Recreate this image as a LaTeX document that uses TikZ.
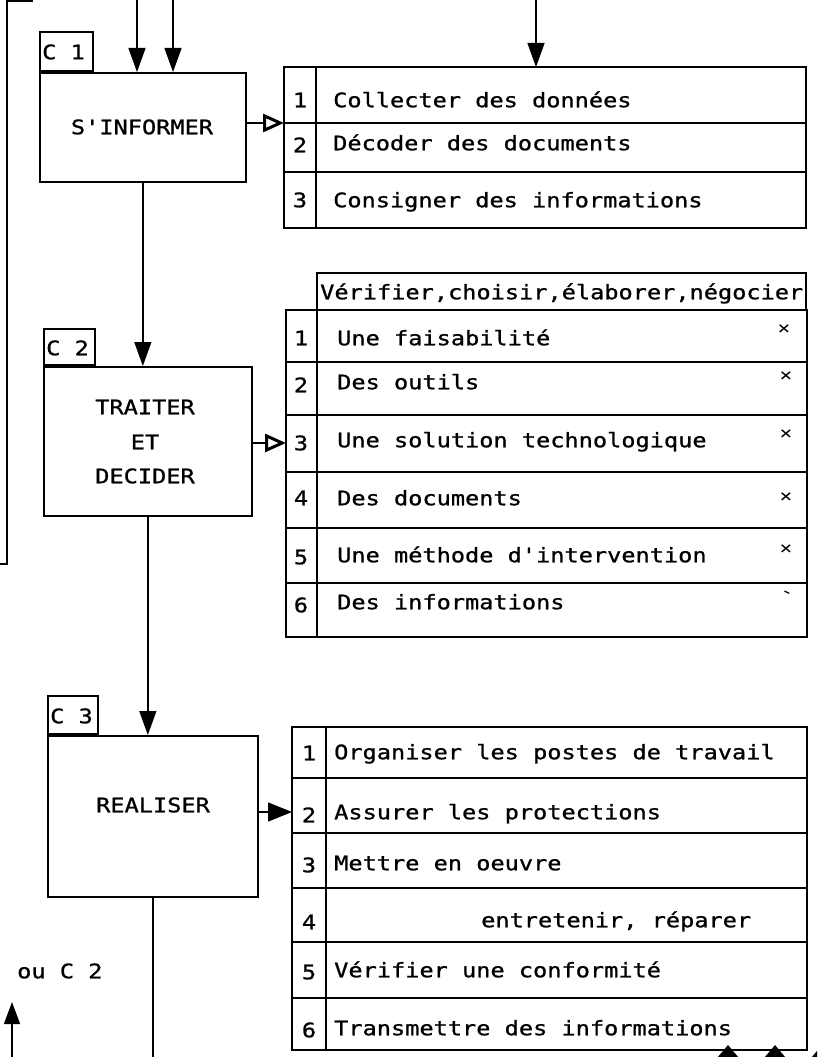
\documentclass[tikz,border=0pt]{standalone}
\usepackage{fontspec}
\newfontfamily\tw[FakeStretch=1.18,FakeBold=1]{DejaVu Sans Mono}
\newfontfamily\twl[FakeStretch=1.18]{DejaVu Sans Mono}
\usetikzlibrary{arrows.meta}
\begin{document}
\begin{tikzpicture}[x=1pt,y=-1pt,
  frame/.style={draw, line width=1.7pt},
  thin/.style={draw, line width=1.1pt},
  conn/.style={draw, line width=1.3pt},
  lbl/.style={font=\tw\fontsize{20}{24}\selectfont, inner sep=0pt, text height=14.5pt, text depth=0pt},
  mk/.style={font=\twl\fontsize{18}{20}\selectfont, inner sep=0pt},
  headdown/.style={-{Triangle[length=24pt,width=17pt]}},
  headopen/.style={-{Triangle[open,length=21pt,width=18pt,line width=3pt]}},
  headfill/.style={-{Triangle[length=24pt,width=19pt]}},
  boxnode/.style={frame, minimum width=#1, inner sep=0pt, anchor=north west},
]
\useasboundingbox (0,0) rectangle (817,1057);
\clip (0,0) rectangle (817,1057);

% ---------- feedback line on the left ----------
\coordinate (fbtop) at (7,0);
\coordinate (fbbot) at (7,564);
\coordinate (fbend) at (0,564);
\coordinate (fbstub) at (33,1);
\draw[thin] (fbtop) -- (fbbot) -- (fbend);
\draw[thin] (fbtop |- fbstub) -- (fbstub);

% ---------- C1 ----------
\node[boxnode=206pt, minimum height=109pt] (c1) at (39,72) {};
\node[boxnode=53pt, minimum height=39pt, anchor=south west] (c1tab) at (39,72) {};
\node[lbl, anchor=west] (c1t) at (42,52) {C 1};
\node[lbl] (c1l) at (142,127) {S'INFORMER};
\coordinate (inA) at (137,0);
\coordinate (inB) at (173,0);
\draw[conn, headdown] (inA) -- (inA |- c1.north);
\draw[conn, headdown] (inB) -- (inB |- c1.north);

% ---------- table 1 ----------
\coordinate (t1in) at (284,123);
\coordinate (inC) at (536,0);
\draw[frame] (284,67) rectangle (806,228);
\draw[frame] (284,123) -- (806,123) (284,172) -- (806,172);
\draw[thin] (316,67) -- (316,228);
\draw[conn, headdown] (inC) -- (536,67);
\node[lbl] (t1n1) at (300,100) {1};
\node[lbl] (t1n2) at (300,145) {2};
\node[lbl] (t1n3) at (300,200) {3};
\node[lbl, anchor=west] (t1a) at (333,100) {Collecter des données};
\node[lbl, anchor=west] (t1b) at (333,143) {Décoder des documents};
\node[lbl, anchor=west] (t1c) at (333,200) {Consigner des informations};
\draw[conn, headopen] (c1.east |- t1in) -- (t1in);

% ---------- C2 ----------
\node[boxnode=208pt, minimum height=149pt] (c2) at (43,366) {};
\node[boxnode=51pt, minimum height=36pt, anchor=south west] (c2tab) at (43,366) {};
\node[lbl, anchor=west] (c2t) at (46,348) {C 2};
\node[lbl] (c2l1) at (145,407) {TRAITER};
\node[lbl] (c2l2) at (145,442) {ET};
\node[lbl] (c2l3) at (145,476) {DECIDER};
\draw[conn, headdown] (c1.south) -- (c1.south |- c2.north);

% ---------- table 2 ----------
\coordinate (t2in) at (286,443);
\draw[frame] (317,273) rectangle (806,310);
\node[lbl, anchor=west] (t2h) at (320,292) {Vérifier,choisir,élaborer,négocier};
\draw[frame] (286,310) rectangle (807,637);
\draw[frame] (286,362) -- (807,362) (286,415) -- (807,415) (286,472) -- (807,472)
                (286,528) -- (807,528) (286,583) -- (807,583);
\draw[thin] (317,273) -- (317,637);
\node[lbl] (t2n1) at (301,338) {1};
\node[lbl] (t2n2) at (301,385) {2};
\node[lbl] (t2n3) at (301,443) {3};
\node[lbl] (t2n4) at (301,498) {4};
\node[lbl] (t2n5) at (301,557) {5};
\node[lbl] (t2n6) at (301,605) {6};
\node[lbl, anchor=west] (t2a) at (337,338) {Une faisabilité};
\node[lbl, anchor=west] (t2b) at (337,382) {Des outils};
\node[lbl, anchor=west] (t2c) at (337,440) {Une solution technologique};
\node[lbl, anchor=west] (t2d) at (337,498) {Des documents};
\node[lbl, anchor=west] (t2e) at (337,555) {Une méthode d'intervention};
\node[lbl, anchor=west] (t2f) at (337,602) {Des informations};
\node[mk] (x1) at (784,330) {×};
\node[mk] (x2) at (786,377) {×};
\node[mk] (x3) at (786,435) {×};
\node[mk] (x4) at (786,498) {×};
\node[mk] (x5) at (786,550) {×};
\node[mk, rotate=-25] (x6) at (786,595) {-};
\draw[conn, headopen] (c2.east |- t2in) -- (t2in);

% ---------- C3 ----------
\node[boxnode=210pt, minimum height=161pt] (c3) at (47,735) {};
\node[boxnode=50pt, minimum height=38pt, anchor=south west] (c3tab) at (47,735) {};
\node[lbl, anchor=west] (c3t) at (50,716) {C 3};
\node[lbl] (c3l) at (153,805) {REALISER};
\draw[conn, headdown] (c2.south) -- (c2.south |- c3.north);

% ---------- table 3 ----------
\coordinate (t3in) at (292,812);
\draw[frame] (292,727) rectangle (807,1050);
\draw[frame] (292,778) -- (807,778) (292,833) -- (807,833) (292,888) -- (807,888)
                (292,942) -- (807,942) (292,998) -- (807,998);
\draw[thin] (326,727) -- (326,1050);
\node[lbl] (t3n1) at (309,753) {1};
\node[lbl] (t3n2) at (309,815) {2};
\node[lbl] (t3n3) at (309,865) {3};
\node[lbl] (t3n4) at (309,922) {4};
\node[lbl] (t3n5) at (309,972) {5};
\node[lbl] (t3n6) at (309,1030) {6};
\node[lbl, anchor=west] (t3a) at (334,752) {Organiser les postes de travail};
\node[lbl, anchor=west] (t3b) at (334,812) {Assurer les protections};
\node[lbl, anchor=west] (t3c) at (334,863) {Mettre en oeuvre};
\node[lbl, anchor=west] (t3d) at (481,920) {entretenir, réparer};
\node[lbl, anchor=west] (t3e) at (334,970) {Vérifier une conformité};
\node[lbl, anchor=west] (t3f) at (334,1028) {Transmettre des informations};
\draw[conn, headfill] (c3.east |- t3in) -- (t3in);

% ---------- bottom ----------
\coordinate (c3out) at (152,1057);
\draw[conn] (c3.south) -- (c3.south |- c3out);
\node[lbl, anchor=west] (ou) at (17,971) {ou C 2};
\coordinate (upfoot) at (12,1060);
\coordinate (uptip) at (12,1002);
\draw[conn, -{Triangle[length=22pt,width=16pt]}] (upfoot) -- (uptip);
\coordinate (b1) at (728,1045);
\coordinate (b2) at (775,1045);
\coordinate (b3) at (822,1045);
\foreach \p in {b1,b2,b3}
  \draw[conn, -{Triangle[length=24pt,width=40pt]}] (\p) ++(0,40) -- (\p);
\end{tikzpicture}
\end{document}
